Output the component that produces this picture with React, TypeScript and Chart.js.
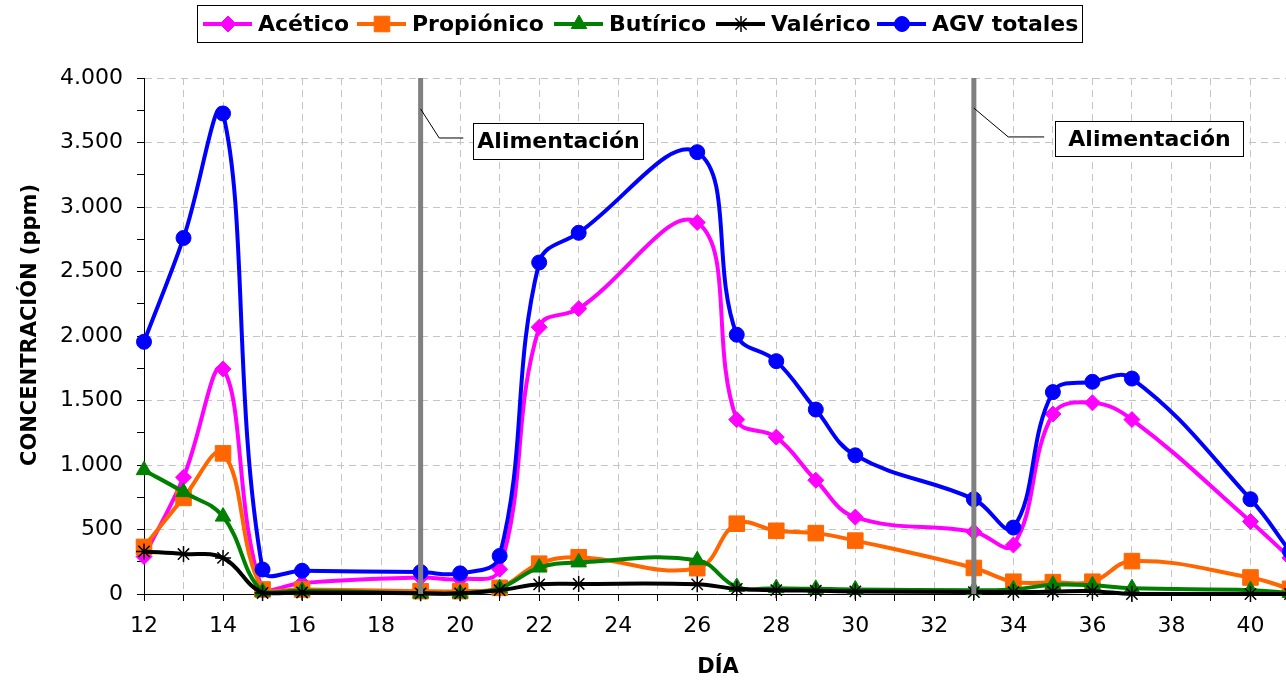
import React, { useEffect, useRef } from 'react';
import { Chart, registerables } from 'chart.js';
import { drawPoint } from 'chart.js/helpers';

Chart.register(...registerables);

// ---------- data ----------
const days = [12, 13, 14, 15, 16, 19, 20, 21, 22, 23, 26, 27, 28, 29, 30, 33, 34, 35, 36, 37, 40, 41];
const acetico = [290, 905, 1745, 30, 85, 128, 115, 192, 2068, 2212, 2880, 1352, 1216, 882, 596, 482, 380, 1395, 1482, 1352, 562, 280];
const propionico = [365, 745, 1090, 35, 35, 22, 22, 48, 235, 285, 200, 545, 490, 472, 414, 202, 95, 92, 95, 255, 128, 40];
const butirico = [960, 790, 600, 18, 25, 5, 5, 45, 205, 245, 262, 55, 45, 40, 35, 30, 35, 72, 68, 45, 30, 8];
const valerico = [330, 310, 280, 8, 12, 5, 5, 30, 75, 78, 75, 40, 30, 25, 20, 15, 15, 18, 22, 0, 0, 0];
const agvTotales = [1955, 2760, 3725, 190, 180, 170, 160, 295, 2570, 2800, 3425, 2010, 1805, 1430, 1075, 735, 515, 1565, 1645, 1670, 735, 330];

const seriesNames = ['Acético', 'Propiónico', 'Butírico', 'Valérico', 'AGV totales'];
const xLabelDays = [12, 14, 16, 18, 20, 22, 24, 26, 28, 30, 32, 34, 36, 38, 40];
const yLabelValues = [0, 500, 1000, 1500, 2000, 2500, 3000, 3500, 4000];
const feedDays = [19, 33];
const annotationText = 'Alimentación';
const xTitle = 'DÍA';
const yTitle = 'CONCENTRACIÓN (ppm)';

// ---------- styles ----------
const FONT = "'DejaVu Sans', Verdana, sans-serif";
const styles = [
  { color: '#FF00FF', pointStyle: 'rectRot', radius: 8, border: '#FF00FF', bw: 1 },
  { color: '#FF6600', pointStyle: 'rect', radius: 11, border: '#FF6600', bw: 1 },
  { color: '#008000', pointStyle: 'triangle', radius: 9, border: '#008000', bw: 1 },
  { color: '#000000', pointStyle: 'star', radius: 8, border: '#000000', bw: 1.5 },
  { color: '#0000FF', pointStyle: 'circle', radius: 7.5, border: '#0000FF', bw: 1 },
];
const seriesValues = [acetico, propionico, butirico, valerico, agvTotales];
const legendTextX = [258, 412, 609, 771, 932];

// annotation geometry in data units
const annotations = [
  { lineX: 19, y0: 3760, elbowX: 19.47, elbowY: 3535, endX: 20.08, boxX0: 20.33, boxX1: 24.63, boxY: 3512, boxH: 36 },
  { lineX: 33, y0: 3767, elbowX: 33.87, elbowY: 3543, endX: 34.78, boxX0: 35.06, boxX1: 39.82, boxY: 3530, boxH: 35 },
];

function fmt(v: number): string {
  if (v >= 1000) return Math.floor(v / 1000) + '.' + String(v % 1000).padStart(3, '0');
  return String(v);
}

const overlayPlugin = {
  id: 'overlay',
  afterDatasetsDraw(chart: any) {
    const ctx = chart.ctx;
    const xs = chart.scales.x;
    const ys = chart.scales.y;
    const area = chart.chartArea;
    ctx.save();
    ctx.strokeStyle = '#808080';
    ctx.lineWidth = 5;
    feedDays.forEach((d) => {
      const px = xs.getPixelForValue(d);
      ctx.beginPath();
      ctx.moveTo(px, area.top);
      ctx.lineTo(px, area.bottom);
      ctx.stroke();
    });
    annotations.forEach((a) => {
      ctx.strokeStyle = '#000';
      ctx.lineWidth = 1;
      ctx.beginPath();
      ctx.moveTo(xs.getPixelForValue(a.lineX), ys.getPixelForValue(a.y0));
      ctx.lineTo(xs.getPixelForValue(a.elbowX), ys.getPixelForValue(a.elbowY));
      ctx.lineTo(xs.getPixelForValue(a.endX), ys.getPixelForValue(a.elbowY));
      ctx.stroke();
      const bx0 = Math.round(xs.getPixelForValue(a.boxX0)) + 0.5;
      const bx1 = Math.round(xs.getPixelForValue(a.boxX1)) + 0.5;
      const cy = ys.getPixelForValue(a.boxY);
      const by0 = Math.round(cy - a.boxH / 2) + 0.5;
      ctx.fillStyle = '#fff';
      ctx.fillRect(bx0, by0, bx1 - bx0, a.boxH);
      ctx.strokeRect(bx0, by0, bx1 - bx0, a.boxH);
      ctx.fillStyle = '#000';
      ctx.font = 'bold 22px ' + FONT;
      ctx.textAlign = 'center';
      ctx.textBaseline = 'middle';
      ctx.fillText(annotationText, (bx0 + bx1) / 2, by0 + a.boxH / 2 + 1);
    });
    ctx.restore();
  },
  afterDraw(chart: any) {
    const ctx = chart.ctx;
    ctx.save();
    ctx.fillStyle = '#000';
    ctx.font = 'bold 21px ' + FONT;
    ctx.textAlign = 'center';
    ctx.textBaseline = 'middle';
    ctx.fillText(xTitle, 718, 668);
    ctx.translate(31, 325);
    ctx.rotate(-Math.PI / 2);
    ctx.fillText(yTitle, 0, 0);
    ctx.restore();

    // legend
    ctx.save();
    const lx = 197.5, ly = 5.5, lw = 885, lh = 37;
    ctx.fillStyle = '#fff';
    ctx.fillRect(lx, ly, lw, lh);
    ctx.strokeStyle = '#000';
    ctx.lineWidth = 1;
    ctx.strokeRect(lx, ly, lw, lh);
    ctx.font = 'bold 22px ' + FONT;
    ctx.textBaseline = 'middle';
    ctx.textAlign = 'left';
    const cy = 24;
    seriesNames.forEach((name, i) => {
      const s = styles[i];
      const tx = legendTextX[i];
      const x = tx - 55;
      ctx.strokeStyle = s.color;
      ctx.lineWidth = 4;
      ctx.beginPath();
      ctx.moveTo(x, cy);
      ctx.lineTo(x + 49, cy);
      ctx.stroke();
      ctx.fillStyle = s.color;
      ctx.strokeStyle = s.border;
      ctx.lineWidth = s.bw;
      drawPoint(ctx, { pointStyle: s.pointStyle, radius: s.radius, rotation: 0, borderWidth: s.bw } as any, x + 25, cy);
      ctx.fillStyle = '#000';
      ctx.fillText(name, tx, cy + 1);
    });
    ctx.restore();
  },
};

export default function App() {
  const ref = useRef<HTMLCanvasElement | null>(null);
  useEffect(() => {
    if (!ref.current) return;
    const datasets = seriesNames.map((name, i) => {
      const s = styles[i];
      return {
        label: name,
        data: days.map((d, j) => ({ x: d, y: seriesValues[i][j] })),
        borderColor: s.color,
        backgroundColor: s.color,
        borderWidth: 4,
        pointStyle: s.pointStyle,
        pointRadius: s.radius,
        pointBackgroundColor: s.color,
        pointBorderColor: s.border,
        pointBorderWidth: s.bw,
        tension: 0.4,
        order: 5 - i,
        clip: false as any,
      };
    });
    const chart = new Chart(ref.current, {
      type: 'line',
      data: { datasets },
      options: {
        animation: false,
        responsive: false,
        layout: { autoPadding: false, padding: { top: 78, left: 0, right: 0, bottom: 0 } },
        plugins: { legend: { display: false }, tooltip: { enabled: false } },
        scales: {
          x: {
            type: 'linear',
            min: 12,
            max: 41,
            afterFit: (scale: any) => {
              scale.height = 90;
              scale.paddingLeft = 0;
              scale.paddingRight = 0;
            },
            ticks: {
              stepSize: 1,
              autoSkip: false,
              maxRotation: 0,
              color: '#000',
              padding: 12,
              font: { family: FONT, size: 22 },
              callback: (v: any) => (xLabelDays.includes(Number(v)) ? String(v) : ''),
            },
            grid: {
              color: (c: any) => (c.tick && c.tick.value > 12 ? '#C4C4C4' : 'rgba(0,0,0,0)'),
              tickColor: '#000',
              tickLength: 7,
              lineWidth: 1,
            },
            border: { color: '#000', width: 1, dash: [7, 5] },
          },
          y: {
            type: 'linear',
            min: 0,
            max: 4000,
            afterFit: (scale: any) => {
              scale.width = 144;
              scale.paddingTop = 0;
              scale.paddingBottom = 0;
            },
            ticks: {
              stepSize: 250,
              autoSkip: false,
              color: '#000',
              padding: 14,
              font: { family: FONT, size: 22 },
              callback: (v: any) => (yLabelValues.includes(Number(v)) ? fmt(Number(v)) : ''),
            },
            grid: {
              color: (c: any) => (c.tick && c.tick.value > 0 && c.tick.value % 500 === 0 ? '#C4C4C4' : 'rgba(0,0,0,0)'),
              tickColor: '#000',
              tickLength: 7,
              lineWidth: 1,
            },
            border: { color: '#000', width: 1, dash: [7, 5] },
          },
        },
      },
      plugins: [overlayPlugin],
    } as any);
    return () => chart.destroy();
  }, []);
  return (
    <div style={{ position: 'absolute', left: 0, top: 0, width: 1286, height: 684, overflow: 'hidden', background: '#fff' }}>
      <canvas ref={ref} width={1290} height={684} style={{ display: 'block' }} />
    </div>
  );
}
